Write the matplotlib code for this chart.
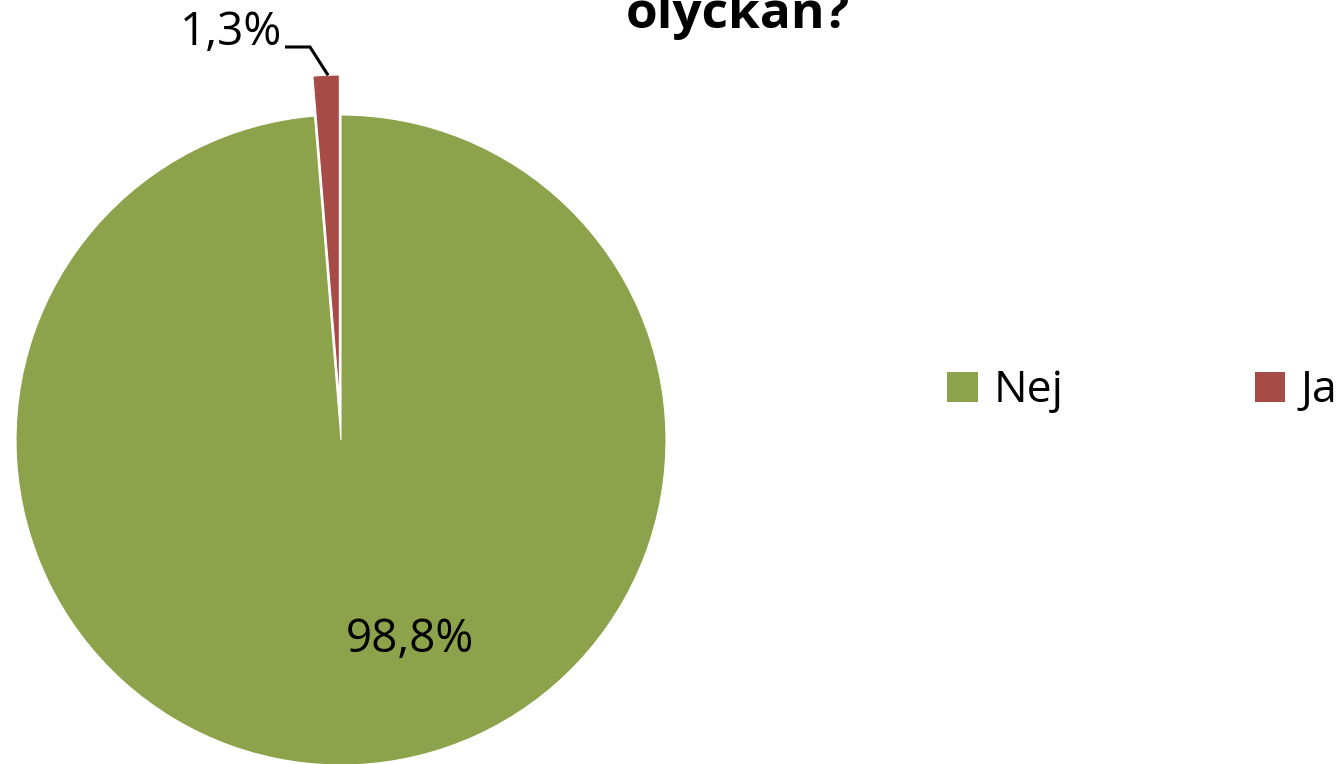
import numpy as np
import matplotlib.pyplot as plt
from matplotlib.patches import Patch

plt.rcParams['font.family'] = ['Open Sans', 'DejaVu Sans']

# data
categories = ['Nej', 'Ja']
values = [98.8, 1.3]
value_labels = ['98,8%', '1,3%']
colors = ['#8CA34B', '#A64B45']
title = 'olyckan?'

W, H = 1341, 764
fig = plt.figure(figsize=(W / 100, H / 100), dpi=100)
ax = fig.add_axes([0, 0, 1, 1])

# pie, in pixel-like data coordinates (y up); explode is absolute here
cx, cy, r = 341, 324, 325
wedges, _ = ax.pie(values, colors=colors, startangle=90, counterclock=False,
                   explode=[0, 40], center=(cx, cy), radius=r,
                   wedgeprops=dict(edgecolor='white', linewidth=0.8))
ax.set_xlim(0, W)
ax.set_ylim(0, H)
ax.set_aspect('equal')
ax.axis('off')

# big slice label
ax.text(410, 124, value_labels[0], fontsize=33, ha='center', va='center')

# small slice label with leader line
w = wedges[1]
mid = np.deg2rad((w.theta1 + w.theta2) / 2)
tip_x = w.center[0] + r * np.cos(mid) + 2
tip_y = w.center[1] + r * np.sin(mid)
ax.plot([285, 310, tip_x], [717, 717, tip_y], color='black', lw=2.2,
        solid_capstyle='butt', solid_joinstyle='miter')
ax.text(282, 731, value_labels[1], fontsize=33, ha='right', va='center')

# title (top lines fall outside the figure, as in the source)
ax.text(738, H - 28, title, fontsize=37, fontweight='bold', ha='center',
        va='baseline')

# legend
handles = [Patch(facecolor=c, edgecolor='none') for c in colors]
fig.legend(handles, categories, loc='center left', bbox_to_anchor=(0.7065, 0.488),
           ncol=2, frameon=False, fontsize=32, handlelength=0.68,
           handleheight=0.68, handletextpad=0.36, columnspacing=4.3,
           borderaxespad=0, borderpad=0)

fig.savefig('out.png', dpi=100)
